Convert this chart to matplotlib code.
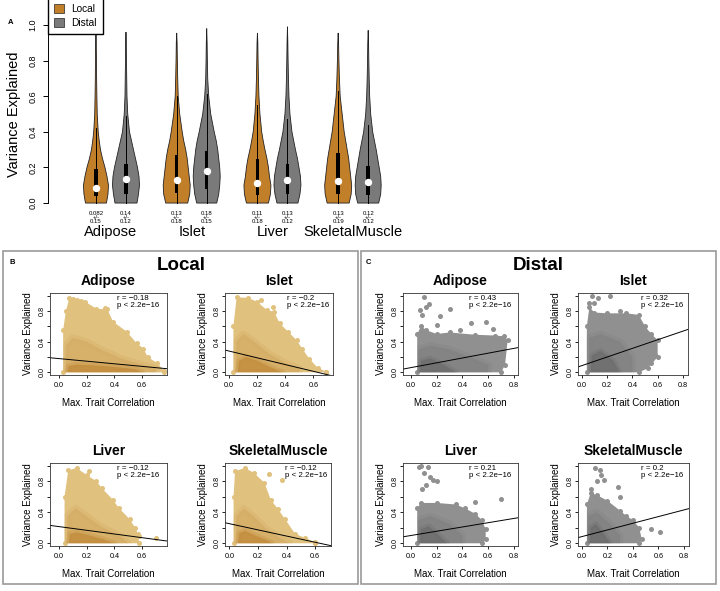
import numpy as np
import matplotlib.pyplot as plt
from matplotlib.patches import Patch, Rectangle

plt.rcParams["font.family"] = ["Liberation Sans", "DejaVu Sans"]

W, H = 720, 591

tissues = ["Adipose", "Islet", "Liver", "SkeletalMuscle"]
local_col = "#C27F2A"
distal_col = "#7A7A7A"

# ---- panel A: violin outlines (widths) ----
prof_y = [0.0, 0.05, 0.1, 0.15, 0.2, 0.25, 0.3, 0.35, 0.4, 0.5, 0.6, 0.7, 0.8, 0.9]
local_width = [
    [21, 24, 25, 22, 18, 13, 9, 6.5, 4.5, 2.5, 1.8, 1.3, 1.0, 0.6],
    [22, 26, 27, 25, 23, 21, 18, 14, 11, 6, 3, 2, 1.3, 0.8],
    [22, 26, 27, 24, 22, 19, 15, 11.5, 8.5, 5, 3, 2, 1.3, 0.8],
    [22, 26, 27, 25, 23, 21, 18, 15, 12, 8, 4, 2.5, 1.5, 0.8],
]
distal_width = [
    [22, 25, 27, 26, 23, 19, 15, 11, 7, 3.5, 2, 1.5, 1.0, 0.6],
    [20, 24, 26, 27, 26, 24, 22, 19, 15, 8, 4, 2, 1.3, 0.8],
    [21, 25, 27, 26, 23, 20, 16, 12.5, 9, 5, 3, 2, 1.3, 0.8],
    [21, 25, 26, 25, 22, 19, 16, 12.5, 9, 5, 3, 2, 1.3, 0.8],
]
local_top = [0.955, 0.955, 0.955, 0.955]
distal_top = [0.96, 0.98, 0.99, 0.97]

local_q1 = [0.04, 0.055, 0.045, 0.05]
local_q3 = [0.19, 0.27, 0.25, 0.28]
local_med = [0.082, 0.13, 0.11, 0.125]
local_whi = [0.42, 0.60, 0.55, 0.63]
distal_q1 = [0.05, 0.08, 0.05, 0.045]
distal_q3 = [0.22, 0.29, 0.22, 0.21]
distal_med = [0.135, 0.18, 0.13, 0.12]
distal_whi = [0.49, 0.61, 0.47, 0.44]

local_mean = ["0.082", "0.13", "0.11", "0.13"]
local_sd = ["0.15", "0.18", "0.18", "0.19"]
distal_mean = ["0.14", "0.18", "0.13", "0.12"]
distal_sd = ["0.12", "0.15", "0.12", "0.12"]

# ---- panels B/C: point-cloud outlines ----
local_env_x = [
    [0.03, 0.03, 0.05, 0.075, 0.13, 0.19, 0.27, 0.35, 0.39, 0.49, 0.56, 0.61, 0.64, 0.71, 0.76, 0.76],
    [0.03, 0.03, 0.053, 0.137, 0.2, 0.27, 0.32, 0.36, 0.42, 0.48, 0.52, 0.57, 0.63, 0.69, 0.69],
    [0.04, 0.04, 0.067, 0.127, 0.2, 0.27, 0.31, 0.39, 0.43, 0.51, 0.55, 0.57, 0.58],
    [0.03, 0.03, 0.04, 0.11, 0.17, 0.245, 0.29, 0.34, 0.39, 0.46, 0.53, 0.6, 0.6],
]
local_env_y = [
    [0.0, 0.55, 0.8, 0.97, 0.94, 0.92, 0.83, 0.82, 0.66, 0.53, 0.38, 0.31, 0.2, 0.12, 0.02, 0.0],
    [0.0, 0.6, 0.98, 0.97, 0.92, 0.81, 0.79, 0.64, 0.53, 0.42, 0.31, 0.18, 0.06, 0.01, 0.0],
    [0.0, 0.6, 0.94, 0.97, 0.88, 0.8, 0.71, 0.56, 0.46, 0.31, 0.2, 0.12, 0.0],
    [0.0, 0.6, 0.93, 0.97, 0.91, 0.78, 0.56, 0.44, 0.31, 0.12, 0.07, 0.01, 0.0],
]
local_mid_x = [
    [0.05, 0.05, 0.1, 0.2, 0.3, 0.45, 0.6, 0.7, 0.7],
    [0.05, 0.05, 0.1, 0.18, 0.28, 0.4, 0.5, 0.5],
    [0.06, 0.06, 0.12, 0.2, 0.3, 0.45, 0.5],
    [0.05, 0.05, 0.1, 0.17, 0.25, 0.35, 0.42],
]
local_mid_y = [
    [0.0, 0.35, 0.45, 0.4, 0.3, 0.18, 0.1, 0.05, 0.0],
    [0.0, 0.4, 0.5, 0.4, 0.25, 0.12, 0.05, 0.0],
    [0.0, 0.35, 0.45, 0.35, 0.22, 0.08, 0.0],
    [0.0, 0.35, 0.45, 0.35, 0.2, 0.07, 0.0],
]
local_core_x = [
    [0.06, 0.07, 0.12, 0.25, 0.4, 0.55, 0.6],
    [0.06, 0.07, 0.12, 0.2, 0.3, 0.38],
    [0.07, 0.08, 0.13, 0.22, 0.32, 0.4],
    [0.06, 0.07, 0.11, 0.18, 0.26, 0.3],
]
local_core_y = [
    [0.0, 0.08, 0.1, 0.09, 0.07, 0.04, 0.0],
    [0.0, 0.15, 0.2, 0.15, 0.06, 0.0],
    [0.0, 0.12, 0.14, 0.1, 0.05, 0.0],
    [0.0, 0.13, 0.16, 0.1, 0.04, 0.0],
]
local_out_x = [[0.1, 0.16, 0.33], [0.23, 0.31], [0.7, 0.58, 0.22], [0.28, 0.37, 0.6]]
local_out_y = [[0.96, 0.93, 0.84], [0.95, 0.85], [0.07, 0.1, 0.93], [0.89, 0.81, 0.02]]

distal_env_x = [
    [0.05, 0.05, 0.08, 0.12, 0.2, 0.3, 0.5, 0.65, 0.72, 0.75, 0.73, 0.7],
    [0.04, 0.04, 0.06, 0.1, 0.2, 0.35, 0.45, 0.5, 0.55, 0.6, 0.6, 0.52, 0.45],
    [0.05, 0.05, 0.08, 0.2, 0.35, 0.42, 0.5, 0.55, 0.58, 0.58, 0.55],
    [0.04, 0.04, 0.07, 0.12, 0.2, 0.3, 0.35, 0.4, 0.45, 0.47, 0.45],
]
distal_env_y = [
    [0.0, 0.5, 0.6, 0.55, 0.5, 0.52, 0.49, 0.48, 0.47, 0.42, 0.1, 0.0],
    [0.0, 0.6, 0.85, 0.78, 0.77, 0.77, 0.75, 0.6, 0.5, 0.42, 0.2, 0.05, 0.0],
    [0.0, 0.45, 0.52, 0.52, 0.5, 0.45, 0.38, 0.3, 0.18, 0.05, 0.0],
    [0.0, 0.5, 0.65, 0.62, 0.55, 0.42, 0.35, 0.3, 0.2, 0.05, 0.0],
]
distal_mid_x = [
    [0.06, 0.06, 0.15, 0.3, 0.45, 0.6, 0.6],
    [0.06, 0.06, 0.15, 0.3, 0.4, 0.4],
    [0.06, 0.06, 0.15, 0.3, 0.4, 0.4],
    [0.05, 0.05, 0.12, 0.22, 0.3, 0.3],
]
distal_mid_y = [
    [0.0, 0.3, 0.35, 0.3, 0.2, 0.1, 0.0],
    [0.0, 0.45, 0.5, 0.4, 0.2, 0.0],
    [0.0, 0.3, 0.35, 0.25, 0.1, 0.0],
    [0.0, 0.35, 0.4, 0.25, 0.1, 0.0],
]
distal_core_x = [
    [0.07, 0.08, 0.15, 0.25, 0.35],
    [0.07, 0.08, 0.15, 0.25, 0.3],
    [0.07, 0.08, 0.14, 0.22, 0.28],
    [0.06, 0.07, 0.11, 0.18, 0.22],
]
distal_core_y = [
    [0.0, 0.15, 0.18, 0.1, 0.0],
    [0.0, 0.22, 0.28, 0.15, 0.0],
    [0.0, 0.18, 0.22, 0.1, 0.0],
    [0.0, 0.2, 0.25, 0.1, 0.0],
]
distal_out_x = [
    [0.1, 0.07, 0.09, 0.12, 0.14, 0.23, 0.3, 0.47, 0.58, 0.64, 0.38, 0.2],
    [0.08, 0.13, 0.22, 0.06, 0.1, 0.58, 0.55, 0.3],
    [0.06, 0.08, 0.13, 0.1, 0.15, 0.17, 0.2, 0.12, 0.7, 0.5, 0.55, 0.09],
    [0.1, 0.14, 0.15, 0.17, 0.12, 0.28, 0.3, 0.54, 0.61, 0.07],
]
distal_out_y = [
    [0.98, 0.81, 0.75, 0.85, 0.89, 0.74, 0.83, 0.64, 0.66, 0.57, 0.55, 0.62],
    [0.99, 0.97, 0.99, 0.9, 0.9, 0.22, 0.12, 0.8],
    [0.98, 0.99, 0.98, 0.9, 0.85, 0.82, 0.8, 0.75, 0.57, 0.53, 0.05, 0.7],
    [0.97, 0.95, 0.88, 0.82, 0.8, 0.73, 0.6, 0.19, 0.14, 0.7],
]

local_r = [-0.18, -0.2, -0.12, -0.12]
local_slope = [-0.169, -0.44, -0.238, -0.40]
local_icpt = [0.179, 0.277, 0.215, 0.253]
distal_r = [0.43, 0.32, 0.21, 0.2]
distal_slope = [0.315, 0.563, 0.276, 0.43]
distal_icpt = [0.061, 0.087, 0.10, 0.086]

fig = plt.figure(figsize=(7.2, 5.91), dpi=100)


def px_axes(left, top, right, bottom):
    return fig.add_axes([left / W, 1 - bottom / H, (right - left) / W, (bottom - top) / H])


def fig_text(x, y, s, **kw):
    fig.text(x / W, 1 - y / H, s, **kw)


# ================= A =================
ax = px_axes(48, 5, 400, 210)
ax.set_xlim(0.22, 4.58)
ax.set_ylim(-0.039, 1.112)
unit = 80.7  # pixels per group
off = 15 / unit
maxw = 27 / unit
for i in range(4):
    c = i + 1
    for pos, widths, top, q1, q3, med, whi, col in [
        (c - off, local_width[i], local_top[i], local_q1[i], local_q3[i], local_med[i], local_whi[i], local_col),
        (c + off, distal_width[i], distal_top[i], distal_q1[i], distal_q3[i], distal_med[i], distal_whi[i], distal_col),
    ]:
        ys = np.array(prof_y + [top])
        hw = np.array(widths + [0]) / 27 * maxw / 2
        xs = np.concatenate([pos - hw, (pos + hw)[::-1]])
        yy = np.concatenate([ys, ys[::-1]])
        ax.fill(xs, yy, facecolor=col, edgecolor="#222222", lw=0.6)
        ax.plot([pos, pos], [0, whi], color="black", lw=0.7)
        bw = 3.5 / unit
        ax.add_patch(Rectangle((pos - bw / 2, q1), bw, q3 - q1, color="black", lw=0))
        ax.plot(pos, med, "o", color="white", ms=4.3, mec="white")
    ax.text(c - off, -0.079, f"{local_mean[i]}\n+/-\n{local_sd[i]}", ha="center", va="center",
            fontsize=4.3, linespacing=0.75, clip_on=False)
    ax.text(c + off, -0.079, f"{distal_mean[i]}\n+/-\n{distal_sd[i]}", ha="center", va="center",
            fontsize=4.3, linespacing=0.75, clip_on=False)
    ax.text(c, -0.165, tissues[i], ha="center", va="center", fontsize=10.5, clip_on=False)

for s in ["top", "right", "bottom"]:
    ax.spines[s].set_visible(False)
ax.spines["left"].set_bounds(0, 1)
ax.spines["left"].set_linewidth(0.7)
ax.set_xticks([])
ax.set_yticks(np.arange(0, 1.01, 0.2))
ax.set_yticklabels([f"{v:.1f}" for v in np.arange(0, 1.01, 0.2)], rotation=90, va="center")
ax.tick_params(axis="y", length=3.6, width=0.7, labelsize=6.5, pad=4)

fig_text(14, 114, "Variance Explained", rotation=90, ha="center", va="center", fontsize=10.5)
fig_text(8, 23, "A", fontsize=5.5, fontweight="bold", ha="left", va="center")

fig.legend(handles=[Patch(facecolor=local_col, edgecolor="#222222", lw=0.5),
                    Patch(facecolor=distal_col, edgecolor="#222222", lw=0.5)],
           labels=["Local", "Distal"], loc="upper left", bbox_to_anchor=(48 / W, 1.003),
           fontsize=7.3, frameon=True, fancybox=False, edgecolor="black", framealpha=1,
           handlelength=1.0, handleheight=1.0, handletextpad=0.7, borderpad=0.6,
           labelspacing=0.35, borderaxespad=0)

# ================= B / C =================
for (x0, x1) in [(3, 358), (361, 716)]:
    fig.patches.append(Rectangle((x0 / W, 1 - 584 / H), (x1 - x0) / W, (584 - 251) / H,
                                 transform=fig.transFigure, fill=False, edgecolor="#9A9A9A", lw=1.2))
fig_text(10, 263, "B", fontsize=5.5, fontweight="bold", va="center")
fig_text(366, 263, "C", fontsize=5.5, fontweight="bold", va="center")
fig_text(181, 266, "Local", fontsize=13.5, fontweight="bold", ha="center", va="center")
fig_text(538, 266, "Distal", fontsize=13.5, fontweight="bold", ha="center", va="center")

local_boxes = [(50, 293, 167, 375), (225, 293, 333, 375), (50, 463, 167, 546), (225, 463, 331, 546)]
distal_boxes = [(403, 293, 518, 375), (578, 293, 688, 375), (403, 463, 518, 546), (578, 463, 689, 546)]
local_xlim = [(-0.065, 0.78), (-0.03, 0.74), (-0.065, 0.78), (-0.03, 0.71)]
distal_xlim = [(-0.06, 0.83), (-0.03, 0.84), (-0.06, 0.83), (-0.03, 0.84)]

local_cols = ["#E0C17E", "#D3A961", "#C18A3A"]
distal_cols = ["#909090", "#808080", "#6C6C6C"]

groups = [
    (local_boxes, local_xlim, local_cols, local_env_x, local_env_y, local_mid_x, local_mid_y,
     local_core_x, local_core_y, local_out_x, local_out_y, local_r, local_slope, local_icpt, [0, 0.2, 0.4, 0.6]),
    (distal_boxes, distal_xlim, distal_cols, distal_env_x, distal_env_y, distal_mid_x, distal_mid_y,
     distal_core_x, distal_core_y, distal_out_x, distal_out_y, distal_r, distal_slope, distal_icpt,
     [0, 0.2, 0.4, 0.6, 0.8]),
]

for (boxes, xlims, cols, ex, ey, mx, my, cx, cy, ox, oy, rr, sl, ic, xt) in groups:
    for i in range(4):
        l, t, r, b = boxes[i]
        ax = px_axes(l, t, r, b)
        ax.set_xlim(*xlims[i])
        ax.set_ylim(-0.035, 1.035)
        env = ax.fill(ex[i], ey[i], color=cols[0], lw=0)[0]
        ax.scatter(ex[i], ey[i], s=13, color=cols[0], lw=0)
        ax.scatter(ox[i], oy[i], s=13, color=cols[0], lw=0)
        # feathered density layers, kept inside the cloud outline
        layers = [
            ax.fill(mx[i], my[i], facecolor=cols[1], edgecolor=cols[1], lw=5, alpha=0.25, joinstyle="round")[0],
            ax.fill(mx[i], my[i], facecolor=cols[1], lw=0, alpha=0.55)[0],
            ax.fill(cx[i], cy[i], facecolor=cols[2], edgecolor=cols[2], lw=4, alpha=0.3, joinstyle="round")[0],
            ax.fill(cx[i], cy[i], facecolor=cols[2], lw=0, alpha=0.65)[0],
        ]
        for p in layers:
            p.set_clip_path(env)
        xs = np.array(xlims[i])
        ax.plot(xs, ic[i] + sl[i] * xs, color="black", lw=0.7)
        ax.text(0.57, 0.975, f"r = {rr[i]}\np < 2.2e\u221216".replace("-", "\u2212"),
                transform=ax.transAxes, ha="left", va="top", fontsize=5.7, linespacing=1.0)
        ax.set_xticks(xt)
        ax.set_xticklabels([f"{v:.1f}" for v in xt])
        ax.set_yticks(np.arange(0, 1.01, 0.2))
        ax.set_yticklabels(["0.0", "", "0.4", "", "0.8", ""], rotation=90, va="center")
        ax.tick_params(axis="x", length=2.2, width=0.6, labelsize=5.2, pad=3)
        ax.tick_params(axis="y", length=2.2, width=0.6, labelsize=5.2, pad=0.8)
        for s in ax.spines.values():
            s.set_linewidth(0.6)
            s.set_color("#333333")
        title_y = t - 12
        fig_text((l + r) / 2, title_y, tissues[i], fontsize=10, fontweight="bold", ha="center", va="center")
        fig_text(l - 22, (t + b) / 2, "Variance Explained", rotation=90, fontsize=7,
                 ha="center", va="center")
        fig_text((l + r) / 2, b + 28, "Max. Trait Correlation", fontsize=7, ha="center", va="center")

fig.savefig("out.png", dpi=100)
